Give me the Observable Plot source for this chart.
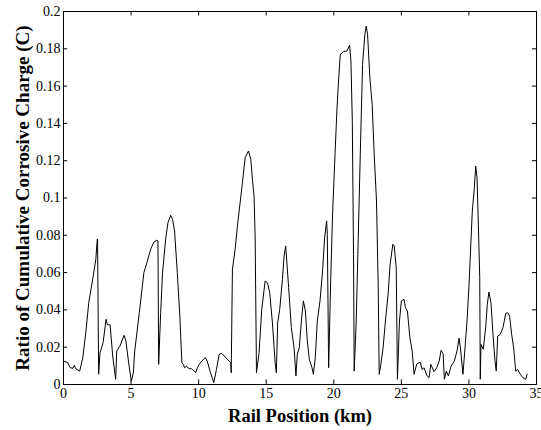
<!DOCTYPE html>
<html>
<head>
<meta charset="utf-8">
<script src="https://cdn.jsdelivr.net/npm/d3@7"></script>
<script src="https://cdn.jsdelivr.net/npm/@observablehq/plot@0.6"></script>
<style>
  html, body { margin: 0; padding: 0; background: #fff; }
  #chart svg { display: block; }
  #chart svg, #chart svg text { font-family: "Liberation Serif", "Times New Roman", serif !important; }
</style>
</head>
<body>
<div id="chart"></div>
<script>
// Rail position (km)
const positions = [
  0, 0.3, 0.5, 0.7, 0.8, 0.9, 1.2, 1.43, 1.65, 1.87, 2.14, 2.39, 2.5, 2.52, 2.6, 2.7, 2.93, 3.15, 3.25, 3.45,
  3.64, 3.86, 3.94, 4.18, 4.48, 4.62, 4.82, 5.02, 5.17, 5.27, 5.61, 5.95, 6.2, 6.45, 6.69, 6.89, 6.99, 7.04, 7.19, 7.33,
  7.56, 7.73, 7.93, 8.07, 8.22, 8.42, 8.61, 8.76, 8.86, 8.96, 9.1, 9.3, 9.47, 9.6, 9.8, 9.9, 10.04, 10.24, 10.49, 10.63,
  10.88, 11.12, 11.32, 11.52, 11.71, 12.01, 12.38, 12.41, 12.5, 12.7, 12.87, 13.04, 13.24, 13.44, 13.69, 13.86, 13.98, 14.1, 14.18, 14.28,
  14.47, 14.67, 14.92, 15.09, 15.26, 15.46, 15.66, 15.75, 15.85, 16.0, 16.2, 16.32, 16.44, 16.66, 16.86, 17.06, 17.2, 17.3, 17.45, 17.6,
  17.75, 17.9, 18.04, 18.19, 18.3, 18.39, 18.49, 18.63, 18.78, 18.98, 19.17, 19.32, 19.47, 19.52, 19.62, 19.77, 19.91, 20.06, 20.24, 20.35,
  20.48, 20.72, 20.97, 21.17, 21.27, 21.37, 21.46, 21.51, 21.66, 21.78, 21.96, 22.13, 22.3, 22.4, 22.5, 22.67, 22.84, 22.99, 23.16, 23.29,
  23.36, 23.48, 23.65, 23.82, 24.02, 24.17, 24.37, 24.47, 24.62, 24.71, 24.86, 25.0, 25.2, 25.3, 25.45, 25.63, 25.8, 25.94, 26.14, 26.39,
  26.54, 26.68, 26.88, 27.05, 27.18, 27.42, 27.62, 27.8, 27.94, 28.09, 28.18, 28.33, 28.48, 28.68, 28.92, 29.12, 29.27, 29.37, 29.56, 29.71,
  29.86, 30.01, 30.15, 30.25, 30.4, 30.5, 30.6, 30.69, 30.8, 30.84, 30.89, 31.06, 31.24, 31.36, 31.48, 31.63, 31.78, 31.93, 32.02, 32.13,
  32.32, 32.52, 32.72, 32.86, 33.01, 33.16, 33.31, 33.46, 33.6, 33.8, 34.0, 34.2, 34.3
];
// Ratio of cumulative corrosive charge
const ratios = [
  0.0126, 0.0117, 0.009, 0.0087, 0.0103, 0.0085, 0.0072, 0.0144, 0.0278, 0.044, 0.0555, 0.067, 0.078, 0.0775, 0.0055, 0.017, 0.0224, 0.035, 0.032, 0.032,
  0.0153, 0.0028, 0.018, 0.0206, 0.0264, 0.0233, 0.0117, 0.0019, 0.0063, 0.018, 0.0385, 0.06, 0.066, 0.0725, 0.0764, 0.0773, 0.077, 0.0108, 0.0385, 0.06,
  0.078, 0.0868, 0.0907, 0.0886, 0.0823, 0.06, 0.0367, 0.0117, 0.0108, 0.009, 0.0097, 0.0085, 0.0085, 0.0075, 0.0065, 0.009, 0.0108, 0.0126, 0.0144, 0.0126,
  0.0063, 0.001, 0.0081, 0.0162, 0.0167, 0.0144, 0.0117, 0.0063, 0.0618, 0.0725, 0.085, 0.0957, 0.1082, 0.1216, 0.1252, 0.1207, 0.11, 0.101, 0.0796, 0.0063,
  0.017, 0.0403, 0.0555, 0.0546, 0.0492, 0.0331, 0.0117, 0.0063, 0.0331, 0.0403, 0.0564, 0.0689, 0.0743, 0.052, 0.0305, 0.0197, 0.0046, 0.0162, 0.0197, 0.034,
  0.0448, 0.0394, 0.0233, 0.0135, 0.011, 0.009, 0.0055, 0.0144, 0.034, 0.0448, 0.0609, 0.0787, 0.0877, 0.0805, 0.009, 0.0555, 0.0913, 0.1181, 0.1484, 0.1627,
  0.177, 0.1785, 0.1788, 0.182, 0.1735, 0.1413, 0.0698, 0.0072, 0.034, 0.0698, 0.1234, 0.1717, 0.1878, 0.1922, 0.1878, 0.1645, 0.1502, 0.1234, 0.0984, 0.0519,
  0.0055, 0.0108, 0.0197, 0.034, 0.0484, 0.0645, 0.0752, 0.0743, 0.0626, 0.0028, 0.034, 0.0448, 0.0457, 0.0412, 0.0394, 0.0251, 0.018, 0.0055, 0.011, 0.012,
  0.008, 0.009, 0.005, 0.0036, 0.0108, 0.0069, 0.009, 0.0126, 0.0183, 0.0165, 0.0028, 0.0072, 0.0046, 0.0099, 0.0126, 0.018, 0.0248, 0.0197, 0.0055, 0.0197,
  0.034, 0.0537, 0.077, 0.093, 0.1055, 0.1171, 0.1109, 0.0877, 0.0573, 0.0028, 0.0215, 0.0189, 0.0305, 0.043, 0.0496, 0.0439, 0.0269, 0.0126, 0.0072, 0.026,
  0.0269, 0.0305, 0.038, 0.0385, 0.0367, 0.0269, 0.0197, 0.0072, 0.0081, 0.0055, 0.0036, 0.0028, 0.0055
];
const xTicks = [0, 5, 10, 15, 20, 25, 30, 35];
const yTicks = [0, 0.02, 0.04, 0.06, 0.08, 0.1, 0.12, 0.14, 0.16, 0.18, 0.2];
const xLabel = "Rail Position (km)";
const yLabel = "Ratio of Cumulative Corrosive Charge (C)";

const data = positions.map((p, i) => ({x: p, y: ratios[i]}));

const chart = Plot.plot({
  width: 541,
  height: 430,
  marginLeft: 63,
  marginRight: 5,
  marginTop: 11,
  marginBottom: 46,
  style: {fontFamily: '"Liberation Serif", "Times New Roman", serif', background: "#fff"},
  x: {domain: [0, 35]},
  y: {domain: [0, 0.2]},
  marks: [
    Plot.frame({stroke: "black", strokeWidth: 1}),
    Plot.ruleX(xTicks, {y1: 0, y2: 0.0024, stroke: "black"}),
    Plot.ruleX(xTicks, {y1: 0.2, y2: 0.1976, stroke: "black"}),
    Plot.ruleY(yTicks, {x1: 0, x2: 0.3, stroke: "black"}),
    Plot.ruleY(yTicks, {x1: 35, x2: 34.7, stroke: "black"}),
    Plot.axisX(xTicks, {tickSize: 0, tickPadding: 4, label: null, fontSize: 14, tickFormat: d => String(d), fill: "black"}),
    Plot.axisY(yTicks, {tickSize: 0, tickPadding: 3, label: null, fontSize: 14, tickFormat: d => String(+d.toFixed(2)), fill: "black"}),
    Plot.line(data, {x: "x", y: "y", stroke: "black", strokeWidth: 1}),
    Plot.text([xLabel], {frameAnchor: "bottom", textAnchor: "middle", lineAnchor: "middle", dy: 32, fontWeight: "bold", fontSize: 18.5, fill: "black"}),
    Plot.text([yLabel], {frameAnchor: "left", textAnchor: "middle", lineAnchor: "middle", dx: -41, rotate: -90, fontWeight: "bold", fontSize: 19, fill: "black"})
  ]
});
document.getElementById("chart").appendChild(chart);
</script>
</body>
</html>
